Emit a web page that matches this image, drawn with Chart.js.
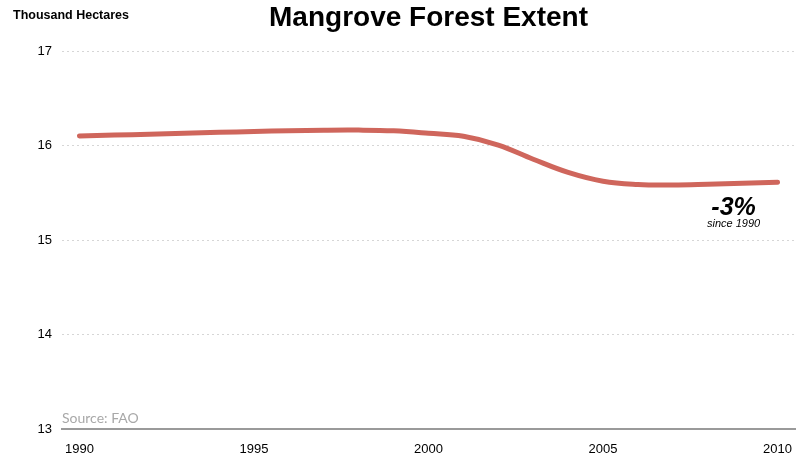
<!DOCTYPE html>
<html>
<head>
<meta charset="utf-8">
<script src="https://cdn.jsdelivr.net/npm/chart.js@4"></script>
<style>
html,body{margin:0;padding:0;background:#fff;}
#wrap{width:800px;height:454px;position:relative;}
</style>
</head>
<body>
<div id="wrap"><canvas id="c" width="800" height="454"></canvas></div>
<script>
const years = [1990,1991,1992,1993,1994,1995,1996,1997,1998,1999,2000,2001,2002,2003,2004,2005,2006,2007,2008,2009,2010];
const extent = [16.10,16.11,16.12,16.13,16.14,16.148,16.156,16.162,16.163,16.155,16.13,16.098,16.005,15.855,15.715,15.622,15.588,15.583,15.59,15.60,15.612];
const xTicks = [1990,1995,2000,2005,2010];
const yTicks = [13,14,15,16,17];
const titleText = "Mangrove Forest Extent";
const unitText = "Thousand Hectares";
const changeText = "-3%";
const changeSub = "since 1990";
const sourceText = "Source: FAO";

const FONT = "'Liberation Sans', Arial, sans-serif";

const textPlugin = {
  id: 'texts',
  afterDraw(chart) {
    const ctx = chart.ctx;
    const ca = chart.chartArea;
    const xs = chart.scales.x, ys = chart.scales.y;
    ctx.save();
    ctx.fillStyle = '#000';
    ctx.textBaseline = 'middle';
    ctx.textAlign = 'center';
    ctx.font = "bold 28px " + FONT;
    ctx.fillText(titleText, (ca.left + ca.right) / 2, 18);
    ctx.textAlign = 'left';
    ctx.font = "bold 12.5px " + FONT;
    ctx.fillText(unitText, 13, 16);
    // annotation near last point
    const lx = xs.getPixelForValue(years[years.length - 1]);
    const ly = ys.getPixelForValue(extent[extent.length - 1]);
    ctx.textAlign = 'center';
    ctx.font = "italic bold 25px " + FONT;
    ctx.fillText(changeText, lx - 44, ly + 26);
    ctx.font = "italic 11px " + FONT;
    ctx.fillText(changeSub, lx - 44, ly + 42);
    // source
    ctx.textAlign = 'left';
    ctx.textBaseline = 'alphabetic';
    ctx.fillStyle = '#a8a8a8';
    ctx.font = "14px Lato, 'Open Sans', sans-serif";
    ctx.fillText(sourceText, ca.left, ca.bottom - 6);
    ctx.restore();
  }
};

new Chart(document.getElementById('c'), {
  type: 'line',
  data: {
    datasets: [{
      data: years.map((y, i) => ({x: y, y: extent[i]})),
      borderColor: 'rgb(207,102,92)',
      borderWidth: 5,
      borderCapStyle: 'round',
      pointRadius: 0,
      tension: 0.4,
      fill: false
    }]
  },
  options: {
    responsive: false,
    animation: false,
    layout: {padding: {top: 51, right: 5, left: 0, bottom: 0}},
    plugins: {legend: {display: false}, tooltip: {enabled: false}, title: {display: false}},
    scales: {
      x: {
        type: 'linear',
        min: 1989.5,
        max: 2010.5,
        afterBuildTicks(s) { s.ticks = xTicks.map(v => ({value: v})); },
        afterFit(s) { s.height = 25; },
        grid: {display: false},
        border: {display: true, color: '#9a9a9a', width: 2},
        ticks: {color: '#000', font: {family: FONT, size: 13}, padding: 5, maxRotation: 0,
          callback: v => String(v)}
      },
      y: {
        min: 13,
        max: 17,
        afterBuildTicks(s) { s.ticks = yTicks.map(v => ({value: v})); },
        afterFit(s) { s.width = 62; },
        border: {display: false, dash: [2, 3]},
        grid: {color: ctx => ctx.tick && ctx.tick.value === 13 ? 'rgba(0,0,0,0)' : '#d6d6d6', lineWidth: 1, drawTicks: false},
        ticks: {color: '#000', font: {family: FONT, size: 13}, padding: 10}
      }
    }
  },
  plugins: [textPlugin]
});
</script>
</body>
</html>
